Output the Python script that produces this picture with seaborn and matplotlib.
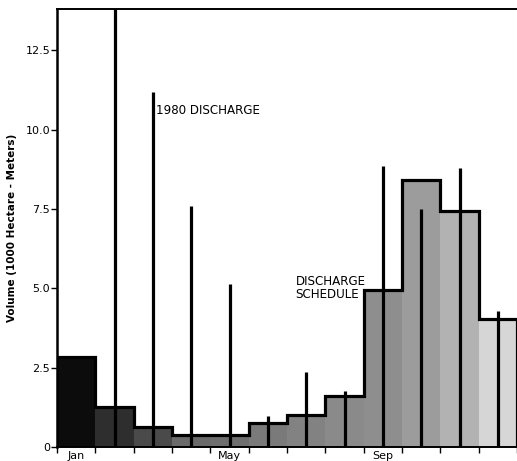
import numpy as np
import pandas as pd
import matplotlib
matplotlib.use("Agg")
import matplotlib.pyplot as plt
import seaborn as sns

# ---- data ----
months = ["Jan", "Feb", "Mar", "Apr", "May", "Jun",
          "Jul", "Aug", "Sep", "Oct", "Nov", "Dec"]
schedule = [2.85, 1.25, 0.62, 0.38, 0.38, 0.75,
            1.02, 1.62, 4.95, 8.42, 7.45, 4.02]
discharge_1980 = [np.nan, 14.5, 11.2, 7.6, 5.12, 0.97,
                  2.35, 1.75, 8.85, 7.5, 8.78, 4.28]
fill_colors = ["#0c0c0c", "#2e2e2e", "#4a4a4a", "#6a6a6a", "#6e6e6e", "#7a7a7a",
               "#828282", "#8a8a8a", "#8e8e8e", "#9c9c9c", "#b2b2b2", "#d6d6d6"]
xtick_labels = {"Jan": "Jan", "May": "May", "Sep": "Sep"}
ytick_values = [0, 2.5, 5.0, 7.5, 10.0, 12.5]
ytick_labels = ["0", "2.5", "5.0", "7.5", "10.0", "12.5"]

df = pd.DataFrame({"month": months, "schedule": schedule,
                   "discharge": discharge_1980})

sns.set_style("ticks", {"axes.edgecolor": "black", "text.color": "black",
                        "xtick.color": "black", "ytick.color": "black",
                        "axes.labelcolor": "black"})
plt.rcParams["font.family"] = ["DejaVu Sans"]

fig = plt.figure(figsize=(5.17, 4.61), dpi=100)
ax = fig.add_axes([0.1103, 0.0304, 0.8897, 0.950])

sns.barplot(data=df, x="month", y="schedule", hue="month",
            palette=fill_colors, width=1.0, saturation=1, linewidth=0,
            legend=False, ax=ax, zorder=1)

pos = np.arange(len(months))
edges = np.append(pos - 0.5, pos[-1] + 0.5)
ax.stairs(df["schedule"].values, edges, color="black", linewidth=2.3,
          baseline=0, zorder=3)
ax.vlines(pos, 0, df["discharge"].values, color="black", linewidth=2.3,
          zorder=4)

ax.set_xlim(-0.5, 11.37)
ax.set_ylim(0, 13.8)

ax.set_xticks([months.index(m) for m in xtick_labels])
ax.set_xticklabels(list(xtick_labels.values()), fontsize=8, color="black")
ax.tick_params(axis="x", which="major", length=0, pad=3)
ax.set_xticks(edges, minor=True)
ax.tick_params(axis="x", which="minor", length=4, width=1, direction="out",
               color="black")

ax.set_yticks(ytick_values)
ax.set_yticklabels(ytick_labels, fontsize=8, color="black")
ax.tick_params(axis="y", length=4, width=1, direction="out", pad=1,
               color="black")

ax.set_xlabel("")
ax.set_ylabel("Volume (1000 Hectare - Meters)", fontsize=7.5,
              fontweight="bold", color="black")
ax.yaxis.set_label_coords(-0.088, 0.5)

ax.spines["right"].set_visible(False)
ax.spines["left"].set_linewidth(1.8)
ax.spines["top"].set_linewidth(1.4)
ax.spines["bottom"].set_linewidth(1.4)

ax.text(2.08, 10.6, "1980 DISCHARGE", fontsize=8.6, va="center", ha="left",
        color="black")
ax.text(5.72, 5.0, "DISCHARGE\nSCHEDULE", fontsize=8.6, va="center",
        ha="left", linespacing=1.0, color="black")

fig.savefig("out.png", dpi=100)
